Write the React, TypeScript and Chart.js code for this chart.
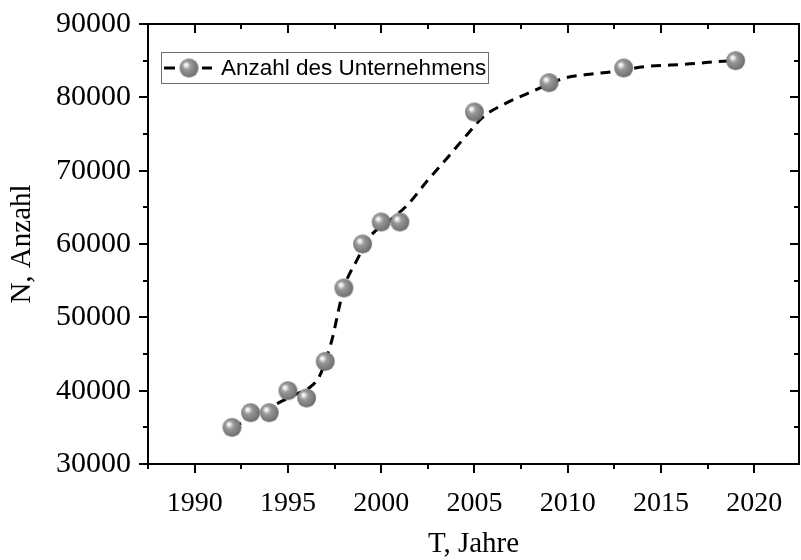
import React, { useEffect, useRef } from "react";
import { Chart, registerables } from "chart.js";

Chart.register(...registerables);

// ---- data ----
const years = [1992, 1993, 1994, 1995, 1996, 1997, 1998, 1999, 2000, 2001, 2005, 2009, 2013, 2019];
const counts = [35000, 37000, 37000, 40000, 39000, 44000, 54000, 60000, 63000, 63000, 78000, 82000, 84000, 85000];

// dashed fit curve
const fitYears = [1992, 1992.5, 1993.5, 1994.7, 1995.5, 1996.2, 1996.7, 1997.0, 1997.4, 1997.7, 1998.0, 1998.7, 1999.4, 2000.4, 2001.4, 2002.5, 2003.6, 2004.5, 2005.5, 2006.7, 2008.1, 2009.8, 2011.0, 2012.4, 2014.2, 2015.5, 2016.8, 2018.1, 2019.0];
const fitCounts = [35000, 35600, 37000, 38600, 39600, 40500, 42000, 44000, 47300, 50800, 54000, 57800, 61000, 63100, 65300, 68700, 71900, 74600, 77400, 79200, 80800, 82600, 83100, 83500, 84200, 84400, 84600, 84900, 85000];

const xTicks = [1990, 1995, 2000, 2005, 2010, 2015, 2020];
const yTicks = [30000, 40000, 50000, 60000, 70000, 80000, 90000];
const xMin = 1987.5;
const xMax = 2022.4;
const yMin = 30000;
const yMax = 90000;

const seriesLabel = "Anzahl des Unternehmens";
const xTitle = "T, Jahre";
const yTitle = "N, Anzahl";

const SERIF = "'Liberation Serif', 'Times New Roman', serif";

function makeSphere(r: number): HTMLCanvasElement {
  const size = Math.ceil(r * 2 + 2);
  const c = document.createElement("canvas");
  c.width = size;
  c.height = size;
  const g = c.getContext("2d")!;
  const cx = size / 2;
  const cy = size / 2;
  const grad = g.createRadialGradient(cx - r * 0.35, cy - r * 0.35, 0, cx - r * 0.1, cy - r * 0.1, r * 1.15);
  grad.addColorStop(0, "#ffffff");
  grad.addColorStop(0.12, "#f0f0f0");
  grad.addColorStop(0.38, "#999999");
  grad.addColorStop(0.75, "#7e7e7e");
  grad.addColorStop(1, "#686868");
  g.fillStyle = grad;
  g.beginPath();
  g.arc(cx, cy, r, 0, Math.PI * 2);
  g.fill();
  return c;
}

function midpoints(arr: number[]): number[] {
  const out: number[] = [];
  for (let i = 0; i < arr.length; i++) {
    out.push(arr[i]);
    if (i < arr.length - 1) out.push((arr[i] + arr[i + 1]) / 2);
  }
  return out;
}

export default function App() {
  const ref = useRef<HTMLCanvasElement | null>(null);

  useEffect(() => {
    const canvas = ref.current;
    if (!canvas) return;
    const sphere = makeSphere(9.5);

    const framePlugin = {
      id: "frame",
      afterDraw(chart: any) {
        const ctx = chart.ctx as CanvasRenderingContext2D;
        const { left, right, top, bottom } = chart.chartArea;
        const xs = chart.scales.x;
        const ys = chart.scales.y;
        ctx.save();
        ctx.strokeStyle = "#000";
        ctx.lineWidth = 2;
        ctx.setLineDash([]);
        ctx.strokeRect(left, top, right - left, bottom - top);

        const xAll = [xMin, ...midpoints(xTicks)];
        for (const v of xAll) {
          if (v < xMin || v > xMax) continue;
          const major = xTicks.includes(v);
          const len = major ? 9 : 5;
          const px = Math.round(xs.getPixelForValue(v));
          ctx.beginPath();
          ctx.moveTo(px, bottom);
          ctx.lineTo(px, bottom + len);
          ctx.moveTo(px, top);
          ctx.lineTo(px, top + len);
          ctx.stroke();
        }
        for (const v of midpoints(yTicks)) {
          const major = yTicks.includes(v);
          const len = major ? 9 : 5;
          const py = Math.round(ys.getPixelForValue(v));
          ctx.beginPath();
          ctx.moveTo(left, py);
          ctx.lineTo(left - len, py);
          ctx.moveTo(right, py);
          ctx.lineTo(right - len, py);
          ctx.stroke();
        }

        // legend
        const lx = 161, ly = 52, lw = 327, lh = 31;
        ctx.lineWidth = 1;
        ctx.strokeStyle = "#6e6e6e";
        ctx.strokeRect(lx + 0.5, ly + 0.5, lw, lh);
        const cy = ly + lh / 2 + 0.5;
        ctx.strokeStyle = "#000";
        ctx.lineWidth = 3;
        ctx.beginPath();
        ctx.moveTo(164, cy);
        ctx.lineTo(175, cy);
        ctx.moveTo(202, cy);
        ctx.lineTo(212, cy);
        ctx.stroke();
        ctx.drawImage(sphere, 189 - sphere.width / 2, cy - sphere.height / 2);
        ctx.fillStyle = "#000";
        ctx.font = "22.5px 'Liberation Sans', Arial, sans-serif";
        ctx.textBaseline = "middle";
        ctx.textAlign = "left";
        ctx.fillText(seriesLabel, 221, cy + 1);
        ctx.restore();
      },
    };

    const chart = new Chart(canvas, {
      type: "line",
      data: {
        datasets: [
          {
            label: seriesLabel,
            data: years.map((x, i) => ({ x, y: counts[i] })),
            showLine: false,
            pointStyle: sphere as any,
            pointRadius: 10,
            pointHoverRadius: 10,
          },
          {
            label: "fit",
            data: fitYears.map((x, i) => ({ x, y: fitCounts[i] })),
            borderColor: "#000",
            borderWidth: 3,
            borderDash: [10, 7],
            pointRadius: 0,
            cubicInterpolationMode: "monotone",
            fill: false,
          },
        ],
      },
      options: {
        responsive: false,
        animation: false,
        devicePixelRatio: 1,
        layout: { autoPadding: false, padding: { left: 0, right: 2, top: 24, bottom: 0 } },
        plugins: {
          legend: { display: false },
          tooltip: { enabled: false },
        },
        scales: {
          x: {
            type: "linear",
            min: xMin,
            max: xMax,
            grid: { display: false },
            border: { display: false },
            afterBuildTicks: (s: any) => {
              s.ticks = xTicks.map((v) => ({ value: v }));
            },
            afterFit: (s: any) => {
              s.height = 96;
              s.paddingLeft = 0;
              s.paddingRight = 0;
            },
            ticks: {
              padding: 15,
              maxRotation: 0,
              autoSkip: false,
              color: "#000",
              font: { family: SERIF, size: 28 },
              callback: (v: any) => String(v),
            },
            title: {
              display: true,
              text: xTitle,
              color: "#000",
              font: { family: SERIF, size: 29, lineHeight: 1 },
              padding: { top: 0, bottom: 1 },
            },
          },
          y: {
            type: "linear",
            min: yMin,
            max: yMax,
            grid: { display: false },
            border: { display: false },
            afterBuildTicks: (s: any) => {
              s.ticks = yTicks.map((v) => ({ value: v }));
            },
            afterFit: (s: any) => {
              s.width = 148;
              s.paddingTop = 0;
              s.paddingBottom = 0;
            },
            ticks: {
              padding: 9,
              autoSkip: false,
              color: "#000",
              font: { family: SERIF, size: 30 },
              callback: (v: any) => String(v),
            },
            title: {
              display: true,
              text: yTitle,
              color: "#000",
              font: { family: SERIF, size: 29, lineHeight: 1 },
              padding: { top: 8, bottom: 0 },
            },
          },
        },
      },
      plugins: [framePlugin],
    });

    return () => chart.destroy();
  }, []);

  return (
    <div style={{ position: "absolute", left: 0, top: 0, width: 801, height: 560, background: "#fff" }}>
      <canvas ref={ref} width={801} height={560} style={{ display: "block" }} />
    </div>
  );
}
